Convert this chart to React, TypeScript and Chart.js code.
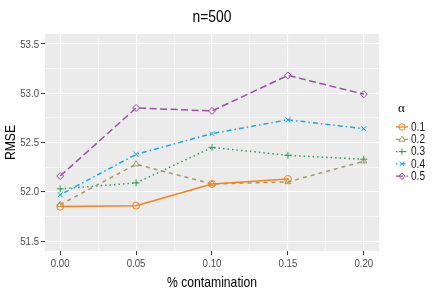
import React, { useEffect, useRef } from 'react';
import { Chart, registerables } from 'chart.js';

Chart.register(...registerables);

const contamination = [0, 0.05, 0.1, 0.15, 0.2];
const alphaLabels = ['0.1', '0.2', '0.3', '0.4', '0.5'];
const rmseA01 = [51.85, 51.86, 52.08, 52.13, null];
const rmseA02 = [51.87, 52.28, 52.08, 52.1, 52.31];
const rmseA03 = [52.03, 52.09, 52.45, 52.37, 52.33];
const rmseA04 = [51.97, 52.38, 52.59, 52.73, 52.64];
const rmseA05 = [52.16, 52.85, 52.82, 53.18, 52.99];
const xMajor = [0, 0.05, 0.1, 0.15, 0.2];
const xMinor = [0.025, 0.075, 0.125, 0.175];
const yMajor = [51.5, 52.0, 52.5, 53.0, 53.5];
const yMinor = [51.75, 52.25, 52.75, 53.25];
const titleText = 'n=500';
const xTitle = '% contamination';
const yTitle = 'RMSE';
const legendTitle = 'α';

const seriesValues = [rmseA01, rmseA02, rmseA03, rmseA04, rmseA05];
const colors = ['#F5821F', '#A39A6C', '#2E9B5E', '#1DA6DC', '#984EA3'];
const dashes: number[][] = [[], [4, 4], [1.5, 3], [1.5, 3, 5, 3], [7, 3.5]];
const shapes = ['circle', 'triangle', 'cross', 'crossRot', 'rectRot'];

const FONT = "'Liberation Sans', Arial, sans-serif";
const SX = 0.84;

function drawText(
  ctx: CanvasRenderingContext2D,
  text: string,
  x: number,
  y: number,
  size: number,
  color: string,
  align: CanvasTextAlign,
  rotate = false,
  family = FONT,
  sx = SX
) {
  ctx.save();
  ctx.translate(x, y);
  if (rotate) ctx.rotate(-Math.PI / 2);
  ctx.scale(sx, 1);
  ctx.font = `${size}px ${family}`;
  ctx.fillStyle = color;
  ctx.textAlign = align;
  ctx.textBaseline = 'middle';
  ctx.fillText(text, 0, 0);
  ctx.restore();
}

function drawMarker(ctx: CanvasRenderingContext2D, shape: string, x: number, y: number, r: number) {
  ctx.beginPath();
  if (shape === 'circle') {
    ctx.arc(x, y, r, 0, Math.PI * 2);
  } else if (shape === 'triangle') {
    ctx.moveTo(x, y - r);
    ctx.lineTo(x + r * 0.95, y + r * 0.6);
    ctx.lineTo(x - r * 0.95, y + r * 0.6);
    ctx.closePath();
  } else if (shape === 'cross') {
    ctx.moveTo(x - r, y);
    ctx.lineTo(x + r, y);
    ctx.moveTo(x, y - r);
    ctx.lineTo(x, y + r);
  } else if (shape === 'crossRot') {
    const d = r * 0.75;
    ctx.moveTo(x - d, y - d);
    ctx.lineTo(x + d, y + d);
    ctx.moveTo(x + d, y - d);
    ctx.lineTo(x - d, y + d);
  } else if (shape === 'rectRot') {
    ctx.moveTo(x, y - r);
    ctx.lineTo(x + r, y);
    ctx.lineTo(x, y + r);
    ctx.lineTo(x - r, y);
    ctx.closePath();
  }
  ctx.stroke();
}

const panelPlugin = {
  id: 'panelBg',
  beforeDraw(chart: any) {
    const { ctx, chartArea } = chart;
    ctx.save();
    ctx.fillStyle = '#EBEBEB';
    ctx.fillRect(chartArea.left, chartArea.top, chartArea.right - chartArea.left, chartArea.bottom - chartArea.top);
    ctx.restore();
  },
};

const textPlugin = {
  id: 'ggText',
  afterDraw(chart: any) {
    const { ctx, chartArea, scales } = chart;
    const cx = (chartArea.left + chartArea.right) / 2;
    const cy = (chartArea.top + chartArea.bottom) / 2;
    drawText(ctx, titleText, cx, 17, 16.5, '#000', 'center');
    xMajor.forEach((v) => {
      drawText(ctx, v.toFixed(2), scales.x.getPixelForValue(v), 263.5, 11.5, '#4D4D4D', 'center');
    });
    yMajor.forEach((v) => {
      drawText(ctx, v.toFixed(1), chartArea.left - 6, scales.y.getPixelForValue(v) + 0.5, 11.5, '#4D4D4D', 'right');
    });
    drawText(ctx, xTitle, cx, 283, 14.5, '#000', 'center');
    drawText(ctx, yTitle, 10.5, cy, 14.5, '#000', 'center', true);

    // legend
    drawText(ctx, legendTitle, 398, 108.5, 13, '#000', 'left', false, "'Liberation Serif', serif", 1);
    alphaLabels.forEach((lab, i) => {
      const y = 127 + i * 12.3;
      ctx.save();
      ctx.strokeStyle = colors[i];
      ctx.lineWidth = 1.3;
      ctx.setLineDash(dashes[i]);
      ctx.beginPath();
      ctx.moveTo(396, y);
      ctx.lineTo(408, y);
      ctx.stroke();
      ctx.setLineDash([]);
      ctx.lineWidth = 1;
      drawMarker(ctx, shapes[i], 402, y, 3.2);
      ctx.restore();
      drawText(ctx, lab, 411, y + 0.5, 12, '#1A1A1A', 'left');
    });
  },
};

export default function App() {
  const ref = useRef<HTMLCanvasElement>(null);
  useEffect(() => {
    document.body.style.margin = '0';
    const canvas = ref.current!;
    const isMajorX = (v: number) => xMajor.some((m) => Math.abs(m - v) < 1e-9);
    const isMajorY = (v: number) => yMajor.some((m) => Math.abs(m - v) < 1e-9);
    const chart = new Chart(canvas, {
      type: 'line',
      data: {
        datasets: seriesValues.map((vals, i) => ({
          label: alphaLabels[i],
          data: contamination.map((x, j) => ({ x, y: vals[j] as any })),
          borderColor: colors[i],
          backgroundColor: 'transparent',
          borderWidth: 1.5,
          borderDash: dashes[i],
          pointStyle: shapes[i] as any,
          pointRadius: 3.5,
          pointBorderWidth: 1,
          pointBorderColor: colors[i],
          pointBackgroundColor: 'transparent',
          spanGaps: false,
          tension: 0,
          fill: false,
        })),
      },
      options: {
        animation: false,
        responsive: false,
        events: [],
        layout: { padding: { left: 0, right: 57, top: 34, bottom: 0 } },
        plugins: {
          legend: { display: false },
          tooltip: { enabled: false },
          title: { display: false },
        },
        scales: {
          x: {
            type: 'linear',
            min: -0.01,
            max: 0.21,
            afterBuildTicks: (s: any) => {
              s.ticks = [...xMajor, ...xMinor].sort((a, b) => a - b).map((v) => ({ value: v }));
            },
            afterFit: (s: any) => {
              s.height = 49;
            },
            border: { display: false },
            grid: {
              color: '#FFFFFF',
              lineWidth: (c: any) => (isMajorX(c.tick.value) ? 1.1 : 0.55),
              tickColor: (c: any) => (isMajorX(c.tick.value) ? '#333333' : 'rgba(0,0,0,0)'),
              tickLength: 4,
              tickWidth: 1,
            },
            ticks: { display: false, autoSkip: false, maxRotation: 0 },
            title: { display: false },
          },
          y: {
            type: 'linear',
            min: 51.4,
            max: 53.6,
            afterBuildTicks: (s: any) => {
              s.ticks = [...yMajor, ...yMinor].sort((a, b) => a - b).map((v) => ({ value: v }));
            },
            afterFit: (s: any) => {
              s.width = 45;
            },
            border: { display: false },
            grid: {
              color: '#FFFFFF',
              lineWidth: (c: any) => (isMajorY(c.tick.value) ? 1.1 : 0.55),
              tickColor: (c: any) => (isMajorY(c.tick.value) ? '#333333' : 'rgba(0,0,0,0)'),
              tickLength: 4,
              tickWidth: 1,
            },
            ticks: { display: false, autoSkip: false },
            title: { display: false },
          },
        },
      },
      plugins: [panelPlugin, textPlugin],
    });
    return () => chart.destroy();
  }, []);
  return (
    <div style={{ width: 436, height: 300 }}>
      <canvas ref={ref} width={436} height={300} style={{ display: 'block' }} />
    </div>
  );
}
